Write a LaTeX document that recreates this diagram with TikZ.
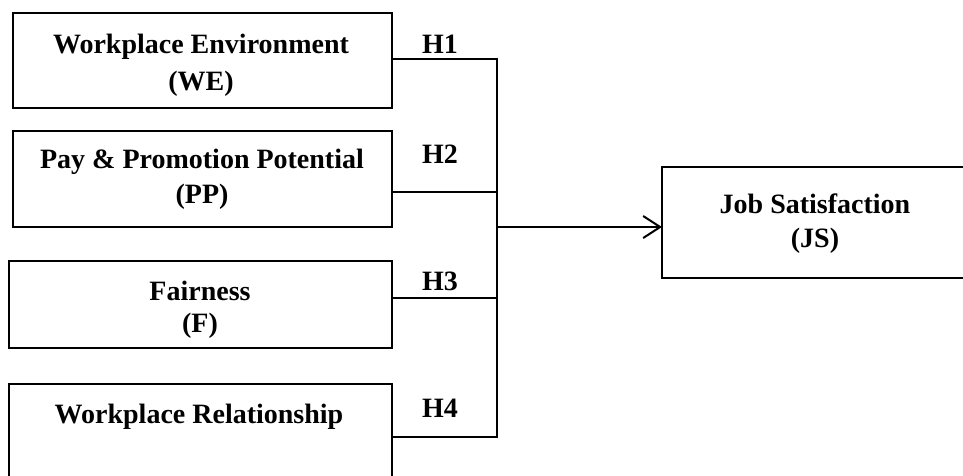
\documentclass[tikz,border=0pt]{standalone}
\usepackage{fontspec}
\setmainfont{Liberation Serif}
\usetikzlibrary{arrows.meta}
\begin{document}
\begin{tikzpicture}[x=1pt,y=-1pt,
  box/.style={draw=black,line width=2pt,rectangle,inner sep=0pt,outer sep=0pt},
  txt/.style={anchor=base,inner sep=0pt,font=\fontsize{28}{34}\selectfont\bfseries},
  conn/.style={draw=black,line width=2pt},
  arr/.style={conn,-{Straight Barb[length=17pt,width=22pt,line width=2pt]}}]
\clip (0,0) rectangle (963,475);
\fill[white] (0,0) rectangle (963,475);
% boxes
\node[box,minimum width=379pt,minimum height=95pt] (we) at (202.5,60.5) {};
\node[box,minimum width=379pt,minimum height=96pt] (pp) at (202.5,179) {};
\node[box,minimum width=383pt,minimum height=87pt] (f) at (200.5,304.5) {};
\node[box,minimum width=383pt,minimum height=112pt] (wr) at (200.5,440) {};
\node[box,minimum width=306pt,minimum height=111pt] (js) at (815,222.5) {};
% texts
\node[txt] (we1) at (201,53) {Workplace Environment};
\node[txt] (we2) at (201,90) {(WE)};
\node[txt] (pp1) at (202,168) {Pay \& Promotion Potential};
\node[txt] (pp2) at (202,203) {(PP)};
\node[txt] (f1) at (200,300) {Fairness};
\node[txt] (f2) at (200,332) {(F)};
\node[txt] (wr1) at (199,423) {Workplace Relationship};
\node[txt] (js1) at (815,213) {Job Satisfaction};
\node[txt] (js2) at (815,247) {(JS)};
% hypothesis labels
\node[txt] (h1l) at (440,53) {H1};
\node[txt] (h2l) at (440,163) {H2};
\node[txt] (h3l) at (440,290) {H3};
\node[txt] (h4l) at (440,417) {H4};
% bus coordinates
\coordinate (h1) at (497,59);
\coordinate (h2) at (497,192);
\coordinate (h3) at (497,298);
\coordinate (h4) at (497,437);
\coordinate (jn) at (497,227);
% connectors
\draw[conn,line join=miter] (we.east |- h1) -- (h1) -- (h4) -- (wr.east |- h4);
\draw[conn] (pp.east |- h2) -- (h2);
\draw[conn] (f.east |- h3) -- (h3);
\draw[arr] (jn) -- (js.west |- jn);
\end{tikzpicture}
\end{document}
